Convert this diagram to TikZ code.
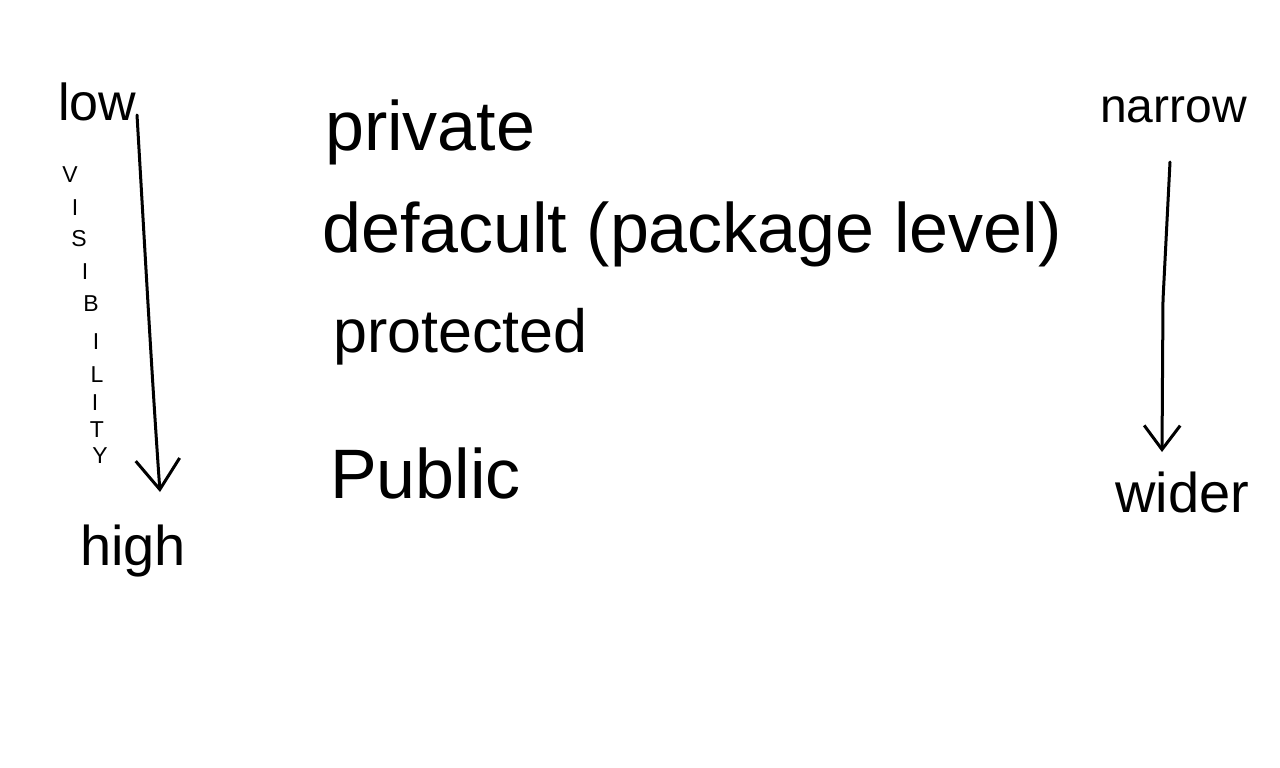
\documentclass[tikz,border=0pt]{standalone}
\usepackage{fontspec}
\setmainfont{Liberation Sans}
\usetikzlibrary{arrows.meta}
\begin{document}
\begin{tikzpicture}[x=1pt,y=-1pt,
  txt/.style={inner sep=0pt,anchor=base west,text=black},
  bigtxt/.style={txt,font=\fontsize{70}{70}\selectfont},
  sidetxt/.style={txt,font=\fontsize{52}{52}\selectfont},
  letter/.style={inner sep=0pt,anchor=center,font=\fontsize{23}{23}\selectfont},
  arr/.style={line width=3pt,line cap=round,line join=round,
    -{Straight Barb[length=30pt,width=44pt,line width=3pt]}}]
  \useasboundingbox[fill=white] (0,0) rectangle (1280,768);

  % left scale: low -> high visibility
  \node[sidetxt] (low) at (58,120) {low};
  \node[sidetxt,font=\fontsize{56}{56}\selectfont] (high) at (80,565) {high};
  \coordinate (ltop) at (137,115);
  \coordinate (ltip) at (160,492);
  \draw[arr] (ltop) .. controls (145,250) and (152,380) .. (ltip);

  % vertical word
  \node[letter] (v1) at (70,175) {V};
  \node[letter] (v2) at (75,208) {I};
  \node[letter] (v3) at (79,239) {S};
  \node[letter] (v4) at (85,272) {I};
  \node[letter] (v5) at (91,304) {B};
  \node[letter] (v6) at (96,342) {I};
  \node[letter] (v7) at (97,375) {L};
  \node[letter] (v8) at (95,403) {I};
  \node[letter] (v9) at (97,430) {T};
  \node[letter] (v10) at (100,456) {Y};

  % access modifiers
  \node[bigtxt] (private) at (325,150) {private};
  \node[bigtxt] (default) at (322,252) {defacult (package level)};
  \node[bigtxt,font=\fontsize{61}{61}\selectfont] (protected) at (333,352) {protected};
  \node[bigtxt] (public) at (330,498) {Public};

  % right scale: narrow -> wider
  \node[txt,font=\fontsize{48}{48}\selectfont] (narrow) at (1100,122) {narrow};
  \node[txt,font=\fontsize{56}{56}\selectfont] (wider) at (1115,512) {wider};
  \coordinate (rtop) at (1170,162);
  \coordinate (rtip) at (1162,452);
  \draw[arr,-{Straight Barb[length=24pt,width=36pt,line width=3pt]}] (rtop) -- (1163,300) -- (rtip);
\end{tikzpicture}
\end{document}
